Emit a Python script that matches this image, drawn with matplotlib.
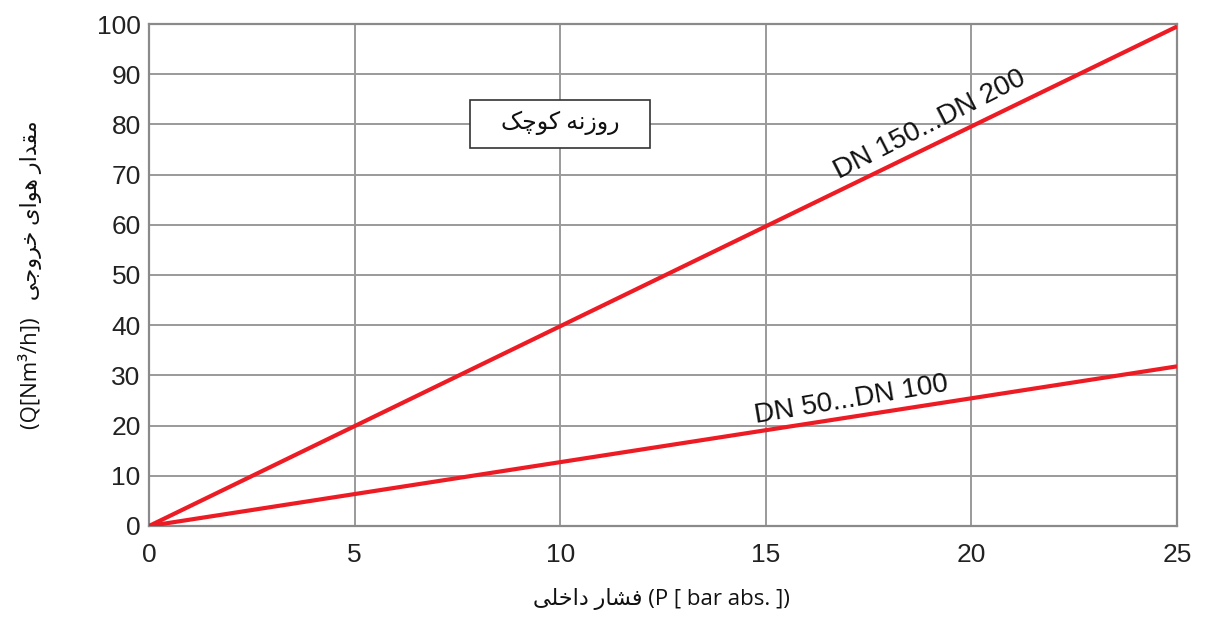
import matplotlib
matplotlib.use("Agg")
import matplotlib.pyplot as plt
from matplotlib.patches import Rectangle

# data
pressure = [0, 25]
flow_large = [0, 99.5]   # DN 150...DN 200
flow_small = [0, 31.8]   # DN 50...DN 100
x_ticks = [0, 5, 10, 15, 20, 25]
y_ticks = [0, 10, 20, 30, 40, 50, 60, 70, 80, 90, 100]

box_text = "روزنه کوچک"
ylabel_fa = "مقدار هوای خروجی"
ylabel_unit = "(Q[Nm³/h])"
xlabel_fa = "فشار داخلی"
xlabel_unit = "(P [ bar abs. ])"

# presentation forms: isolated, final, initial, medial (None = no joining to the left)
FORMS = {
    "ا": ("\uFE8D", "\uFE8E", None, None),
    "د": ("\uFEA9", "\uFEAA", None, None),
    "ر": ("\uFEAD", "\uFEAE", None, None),
    "ز": ("\uFEAF", "\uFEB0", None, None),
    "و": ("\uFEED", "\uFEEE", None, None),
    "ن": ("\uFEE5", "\uFEE6", "\uFEE7", "\uFEE8"),
    "ه": ("\uFEE9", "\uFEEA", "\uFEEB", "\uFEEC"),
    "ک": ("\uFB8E", "\uFB8F", "\uFB90", "\uFB91"),
    "چ": ("\uFB7A", "\uFB7B", "\uFB7C", "\uFB7D"),
    "م": ("\uFEE1", "\uFEE2", "\uFEE3", "\uFEE4"),
    "ق": ("\uFED5", "\uFED6", "\uFED7", "\uFED8"),
    "ی": ("\uFBFC", "\uFBFD", "\uFBFE", "\uFBFF"),
    "خ": ("\uFEA5", "\uFEA6", "\uFEA7", "\uFEA8"),
    "ج": ("\uFE9D", "\uFE9E", "\uFE9F", "\uFEA0"),
    "ف": ("\uFED1", "\uFED2", "\uFED3", "\uFED4"),
    "ش": ("\uFEB5", "\uFEB6", "\uFEB7", "\uFEB8"),
    "ل": ("\uFEDD", "\uFEDE", "\uFEDF", "\uFEE0"),
}


def shape(text):
    out = []
    for i, ch in enumerate(text):
        if ch not in FORMS:
            out.append(ch)
            continue
        prev = text[i - 1] if i > 0 else " "
        nxt = text[i + 1] if i + 1 < len(text) else " "
        join_prev = prev in FORMS and FORMS[prev][2] is not None
        join_next = nxt in FORMS and FORMS[ch][2] is not None
        iso, fin, ini, med = FORMS[ch]
        if join_prev and join_next:
            out.append(med)
        elif join_prev:
            out.append(fin)
        elif join_next:
            out.append(ini)
        else:
            out.append(iso)
    return "".join(out)[::-1]


fam = ["Open Sans", "DejaVu Sans"]
plt.rcParams["font.family"] = ["Liberation Sans", "DejaVu Sans"]

fig = plt.figure(figsize=(12.05, 6.17), dpi=100)
ax = fig.add_axes([0.1237, 0.1475, 0.8531, 0.8136])

red = "#ed1c24"
ax.plot(pressure, flow_large, color=red, lw=3, solid_capstyle="butt", zorder=3)
ax.plot(pressure, flow_small, color=red, lw=3, solid_capstyle="butt", zorder=3)

ax.set_xlim(0, 25)
ax.set_ylim(0, 100)
ax.set_xticks(x_ticks)
ax.set_yticks(y_ticks)
ax.tick_params(length=0, labelsize=19, colors="#222222")
ax.tick_params(axis="x", pad=12)
ax.tick_params(axis="y", pad=6)
ax.grid(True, color="#9a9a9a", lw=1.4)
ax.set_axisbelow(True)
for s in ax.spines.values():
    s.set_color("#8a8a8a")
    s.set_linewidth(1.6)

ax.text(19.0, 80.0, "DN 150...DN 200", fontsize=20, rotation=27,
        ha="center", va="center", color="#111111")
ax.text(17.07, 25.1, "DN 50...DN 100", fontsize=20, rotation=9.5,
        ha="center", va="center", color="#111111")

# label box
ax.add_patch(Rectangle((10.0 - 2.19, 80.1 - 4.78), 4.38, 9.56, fc="white",
                       ec="#333333", lw=1.2, zorder=4))
ax.text(10.0, 80.4, shape(box_text), fontsize=17, family=fam, ha="center", va="center",
        color="#111111", zorder=5)

fig.text(0.549, 0.012, shape(xlabel_fa) + " " + xlabel_unit, fontsize=16,
         family=fam, ha="center", va="bottom", color="#111111")
fig.text(0.025, 0.555, ylabel_unit + "   " + shape(ylabel_fa), fontsize=16,
         family=fam, rotation=90, ha="center", va="center", color="#111111")

fig.savefig("out.png", dpi=100)
